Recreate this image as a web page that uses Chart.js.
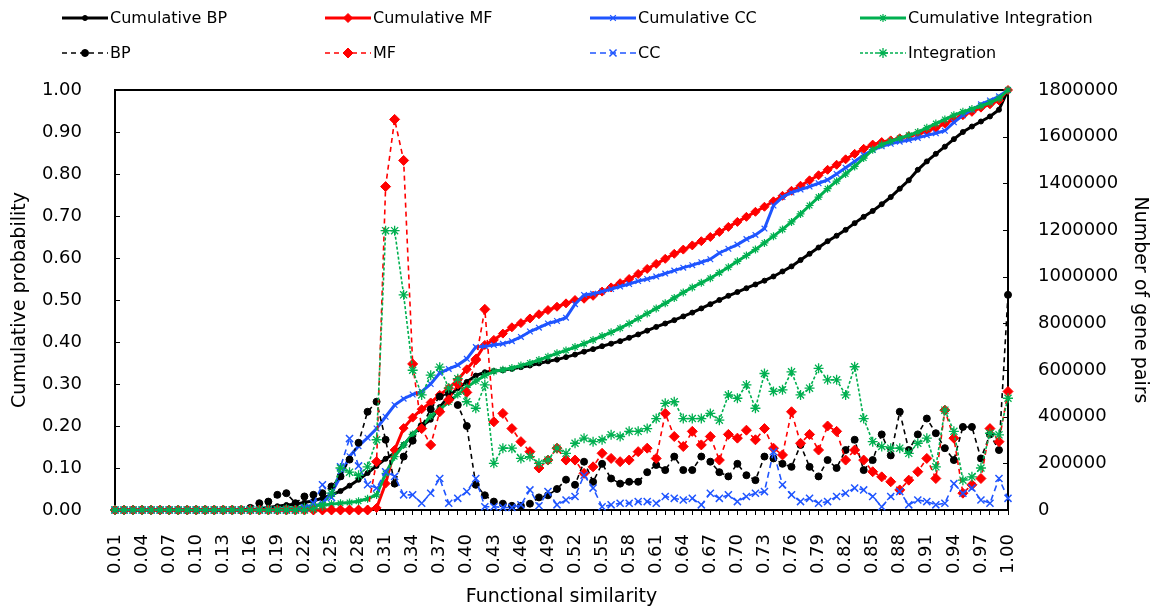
<!DOCTYPE html>
<html>
<head>
<meta charset="utf-8">
<script src="https://cdn.jsdelivr.net/npm/chart.js@4.4.1/dist/chart.umd.min.js"></script>
<style>
  html, body { margin: 0; padding: 0; background: #fff; }
</style>
</head>
<body>
<canvas id="chart" width="1155" height="611"></canvas>
<script>
// categories: functional similarity bins
const similarity = [
  "0.01","0.02","0.03","0.04","0.05","0.06","0.07","0.08","0.09","0.10",
  "0.11","0.12","0.13","0.14","0.15","0.16","0.17","0.18","0.19","0.20",
  "0.21","0.22","0.23","0.24","0.25","0.26","0.27","0.28","0.29","0.30",
  "0.31","0.32","0.33","0.34","0.35","0.36","0.37","0.38","0.39","0.40",
  "0.41","0.42","0.43","0.44","0.45","0.46","0.47","0.48","0.49","0.50",
  "0.51","0.52","0.53","0.54","0.55","0.56","0.57","0.58","0.59","0.60",
  "0.61","0.62","0.63","0.64","0.65","0.66","0.67","0.68","0.69","0.70",
  "0.71","0.72","0.73","0.74","0.75","0.76","0.77","0.78","0.79","0.80",
  "0.81","0.82","0.83","0.84","0.85","0.86","0.87","0.88","0.89","0.90",
  "0.91","0.92","0.93","0.94","0.95","0.96","0.97","0.98","0.99","1.00"
];

// x labels that are printed (every third bin)
const shownTicks = [
  "0.01","0.04","0.07","0.10","0.13","0.16","0.19","0.22","0.25","0.28",
  "0.31","0.34","0.37","0.40","0.43","0.46","0.49","0.52","0.55","0.58",
  "0.61","0.64","0.67","0.70","0.73","0.76","0.79","0.82","0.85","0.88",
  "0.91","0.94","0.97","1.00"
];

// cumulative probability (left axis)
const cumBP = [
  0,0,0,0,0,0,0,0,0,0,
  0,0,0,0,0,0,0.003,0.006,0.009,0.012,
  0.014,0.018,0.022,0.028,0.036,0.045,0.058,0.072,0.088,0.105,
  0.122,0.135,0.155,0.18,0.2,0.215,0.245,0.27,0.29,0.305,
  0.32,0.328,0.331,0.333,0.336,0.34,0.344,0.349,0.354,0.358,
  0.364,0.37,0.377,0.383,0.39,0.396,0.402,0.41,0.418,0.427,
  0.436,0.444,0.452,0.461,0.47,0.48,0.49,0.5,0.51,0.519,
  0.528,0.537,0.546,0.556,0.568,0.58,0.595,0.61,0.625,0.64,
  0.653,0.667,0.683,0.698,0.712,0.728,0.745,0.765,0.785,0.81,
  0.83,0.848,0.865,0.883,0.9,0.913,0.925,0.937,0.953,1.0
];
const cumMF = [
  0,0,0,0,0,0,0,0,0,0,
  0,0,0,0,0,0,0,0,0,0,
  0,0,0,0,0,0,0,0,0,0.005,
  0.063,0.143,0.195,0.22,0.24,0.256,0.274,0.29,0.31,0.335,
  0.36,0.393,0.405,0.42,0.435,0.445,0.456,0.466,0.476,0.484,
  0.492,0.5,0.503,0.51,0.52,0.53,0.54,0.55,0.562,0.574,
  0.586,0.598,0.61,0.62,0.63,0.64,0.65,0.662,0.674,0.686,
  0.698,0.71,0.722,0.735,0.748,0.76,0.772,0.785,0.797,0.81,
  0.822,0.835,0.848,0.86,0.87,0.876,0.88,0.885,0.89,0.895,
  0.902,0.91,0.92,0.93,0.94,0.948,0.958,0.966,0.975,1.0
];
const cumCC = [
  0,0,0,0,0,0,0,0,0,0,
  0,0,0,0,0,0,0,0,0,0,
  0.002,0.004,0.008,0.016,0.04,0.08,0.128,0.152,0.172,0.194,
  0.222,0.25,0.265,0.275,0.282,0.3,0.326,0.336,0.345,0.36,
  0.388,0.39,0.393,0.396,0.402,0.412,0.425,0.434,0.444,0.45,
  0.458,0.49,0.512,0.515,0.52,0.526,0.532,0.538,0.545,0.55,
  0.556,0.563,0.57,0.577,0.583,0.59,0.597,0.612,0.622,0.632,
  0.645,0.655,0.67,0.725,0.745,0.756,0.763,0.77,0.778,0.786,
  0.8,0.815,0.83,0.845,0.857,0.866,0.872,0.877,0.881,0.886,
  0.892,0.897,0.903,0.923,0.94,0.953,0.966,0.975,0.985,1.0
];
const cumIntegration = [
  0,0,0,0,0,0,0,0,0,0,
  0,0,0,0,0,0,0,0,0.002,0.004,
  0.006,0.008,0.01,0.012,0.014,0.016,0.018,0.021,0.027,0.036,
  0.087,0.127,0.155,0.18,0.2,0.224,0.24,0.257,0.275,0.292,
  0.307,0.32,0.33,0.334,0.338,0.344,0.35,0.357,0.365,0.373,
  0.38,0.388,0.396,0.405,0.414,0.423,0.433,0.444,0.456,0.468,
  0.48,0.492,0.505,0.518,0.53,0.541,0.552,0.565,0.578,0.592,
  0.606,0.62,0.636,0.652,0.668,0.686,0.705,0.725,0.745,0.765,
  0.783,0.8,0.818,0.838,0.858,0.87,0.878,0.885,0.892,0.9,
  0.91,0.92,0.93,0.94,0.948,0.955,0.962,0.97,0.98,1.0
];

// number of gene pairs per bin (right axis)
const bpPairs = [
  0,0,0,0,0,0,0,0,0,0,
  0,0,0,0,0,9000,29000,36000,65000,72000,
  29000,58000,65000,72000,101000,144000,216000,288000,421000,464000,
  301000,113000,229000,297000,360000,432000,486000,500000,450000,360000,
  108000,63000,36000,27000,18000,18000,27000,54000,63000,90000,
  130000,108000,207000,121000,198000,135000,113000,121000,121000,162000,
  193000,171000,229000,171000,171000,229000,207000,162000,144000,198000,
  149000,128000,229000,221000,198000,185000,279000,185000,144000,214000,
  180000,257000,301000,171000,214000,324000,234000,421000,257000,324000,
  392000,329000,265000,214000,356000,356000,221000,324000,257000,922000
];
const mfPairs = [
  0,0,0,0,0,0,0,0,0,0,
  0,0,0,0,0,0,0,0,0,0,
  0,0,0,0,0,0,0,0,0,207000,
  1386000,1674000,1498000,626000,349000,279000,421000,472000,540000,504000,
  643000,860000,378000,414000,349000,293000,250000,180000,214000,265000,
  214000,214000,157000,185000,243000,221000,207000,214000,250000,265000,
  221000,414000,315000,272000,337000,279000,315000,214000,324000,308000,
  342000,301000,349000,265000,236000,421000,286000,324000,257000,360000,
  337000,214000,257000,214000,164000,142000,121000,86000,128000,164000,
  221000,135000,428000,308000,72000,108000,135000,349000,293000,508000
];
const ccPairs = [
  0,0,0,0,0,0,0,0,0,0,
  0,0,0,0,0,0,0,0,0,0,
  0,9000,29000,108000,54000,185000,306000,189000,108000,94000,
  164000,144000,65000,65000,29000,72000,135000,29000,50000,79000,
  135000,14000,14000,11000,11000,22000,86000,18000,79000,22000,
  43000,58000,149000,94000,14000,22000,29000,29000,36000,36000,
  29000,58000,50000,43000,50000,22000,72000,50000,65000,36000,
  58000,72000,79000,250000,108000,65000,36000,50000,29000,36000,
  58000,72000,94000,86000,58000,14000,58000,79000,22000,43000,
  36000,22000,29000,113000,72000,94000,43000,29000,135000,50000
];
const integrationPairs = [
  0,0,0,0,0,0,0,0,0,0,
  0,0,0,0,0,0,0,0,0,0,
  0,0,5000,18000,72000,180000,162000,149000,185000,301000,
  1197000,1197000,922000,599000,493000,578000,612000,522000,563000,464000,
  436000,536000,200000,265000,265000,221000,229000,200000,214000,265000,
  243000,286000,308000,293000,301000,322000,315000,337000,337000,349000,
  392000,457000,464000,392000,392000,392000,414000,385000,493000,479000,
  536000,436000,585000,508000,515000,592000,493000,522000,607000,558000,
  558000,493000,614000,392000,293000,272000,265000,265000,243000,286000,
  308000,185000,428000,337000,128000,142000,180000,329000,322000,479000
];

const FONT = "'DejaVu Sans', Arial, sans-serif";
const BLACK = "#000000", RED = "#ff0000", BLUE = "#1f55ff", GREEN = "#00b050";

const series = [
  { label: "Cumulative BP", data: cumBP, color: BLACK, axis: "y", width: 3, dash: [], style: "circle", r: 2.5, pw: 1 },
  { label: "Cumulative MF", data: cumMF, color: RED, axis: "y", width: 3, dash: [], style: "rectRot", r: 4.5, pw: 1 },
  { label: "Cumulative CC", data: cumCC, color: BLUE, axis: "y", width: 3, dash: [], style: "crossRot", r: 4, pw: 1.2 },
  { label: "Cumulative Integration", data: cumIntegration, color: GREEN, axis: "y", width: 3, dash: [], style: "star", r: 4, pw: 1.2 },
  { label: "BP", data: bpPairs, color: BLACK, axis: "y1", width: 1.6, dash: [5, 4], style: "circle", r: 3.5, pw: 1 },
  { label: "MF", data: mfPairs, color: RED, axis: "y1", width: 1.6, dash: [5, 4], style: "rectRot", r: 5, pw: 1 },
  { label: "CC", data: ccPairs, color: BLUE, axis: "y1", width: 1.6, dash: [6, 4], style: "crossRot", r: 5, pw: 1.5 },
  { label: "Integration", data: integrationPairs, color: GREEN, axis: "y1", width: 1.6, dash: [3, 2], style: "star", r: 5, pw: 1.3 }
];

// legend slot positions
const legendCols = [62, 325, 590, 860];
const legendRows = [18, 53];

const framePlugin = {
  id: "frame",
  beforeDatasetsDraw(chart) {
    const { ctx, chartArea: a, scales } = chart;
    ctx.save();
    ctx.strokeStyle = "#000";
    ctx.lineWidth = 2;
    ctx.strokeRect(a.left, a.top, a.right - a.left, a.bottom - a.top);
    ctx.lineWidth = 1;
    ctx.beginPath();
    scales.y.ticks.forEach((t, i) => {
      const py = Math.round(scales.y.getPixelForTick(i)) + 0.5;
      ctx.moveTo(a.left, py); ctx.lineTo(a.left + 5, py);
    });
    scales.y1.ticks.forEach((t, i) => {
      const py = Math.round(scales.y1.getPixelForTick(i)) + 0.5;
      ctx.moveTo(a.right, py); ctx.lineTo(a.right - 5, py);
    });
    ctx.stroke();
    ctx.restore();
  }
};

const legendPlugin = {
  id: "topLegend",
  afterDraw(chart) {
    const ctx = chart.ctx;
    chart.data.datasets.forEach((ds, i) => {
      const x = legendCols[i % 4], y = legendRows[Math.floor(i / 4)];
      ctx.save();
      ctx.strokeStyle = ds.borderColor;
      ctx.lineWidth = ds.borderWidth;
      ctx.setLineDash(ds.borderDash);
      ctx.beginPath();
      ctx.moveTo(x, y); ctx.lineTo(x + 46, y);
      ctx.stroke();
      ctx.setLineDash([]);
      ctx.fillStyle = ds.borderColor;
      ctx.lineWidth = ds.pointBorderWidth;
      Chart.helpers.drawPoint(ctx, { pointStyle: ds.pointStyle, radius: ds.pointRadius, rotation: 0, borderWidth: ds.pointBorderWidth }, x + 23, y);
      ctx.fillStyle = "#000";
      ctx.font = "16px " + FONT;
      ctx.textBaseline = "middle";
      ctx.fillText(ds.label, x + 48, y + 1);
      ctx.restore();
    });
  }
};

const tickFont = { family: FONT, size: 18 };
const titleFont = { family: FONT, size: 19 };

new Chart(document.getElementById("chart"), {
  type: "line",
  data: {
    labels: similarity,
    datasets: series.map((s, i) => ({
      label: s.label,
      data: s.data,
      yAxisID: s.axis,
      borderColor: s.color,
      backgroundColor: s.color,
      borderWidth: s.width,
      borderDash: s.dash,
      pointStyle: s.style,
      pointRadius: s.r,
      pointBorderWidth: s.pw,
      pointBackgroundColor: s.color,
      pointBorderColor: s.color,
      tension: 0,
      clip: false,
      order: 8 - i
    }))
  },
  options: {
    responsive: false,
    animation: false,
    layout: { padding: { top: 90, left: 0, right: 0, bottom: 0 } },
    plugins: { legend: { display: false }, tooltip: { enabled: false } },
    scales: {
      x: {
        type: "category",
        offset: false,
        grid: { display: true, drawOnChartArea: false, drawTicks: true, tickLength: 5, color: "#000" },
        border: { display: false },
        ticks: {
          autoSkip: false, minRotation: 90, maxRotation: 90, padding: 19, color: "#000", font: tickFont,
          callback: (v, i) => shownTicks.includes(similarity[i]) ? similarity[i] : ""
        },
        title: { display: true, text: "Functional similarity", color: "#000", font: titleFont, padding: { top: 3, bottom: 3 } },
        afterFit: s => { s.height = 101; }
      },
      y: {
        position: "left",
        min: 0, max: 1,
        grid: { display: false },
        border: { display: false },
        ticks: { stepSize: 0.1, padding: 25, color: "#000", font: tickFont, callback: v => v.toFixed(2) },
        title: { display: true, text: "Cumulative probability", color: "#000", font: titleFont, padding: { top: 9, bottom: 0 } },
        afterFit: s => { s.width = 115; }
      },
      y1: {
        position: "right",
        min: 0, max: 1800000,
        grid: { display: false },
        border: { display: false },
        ticks: { stepSize: 200000, padding: 22, color: "#000", font: tickFont, callback: v => String(v) },
        title: { display: true, text: "Number of gene pairs", color: "#000", font: titleFont, padding: { top: 4, bottom: 0 } },
        afterFit: s => { s.width = 147; }
      }
    }
  },
  plugins: [framePlugin, legendPlugin]
});
</script>
</body>
</html>
